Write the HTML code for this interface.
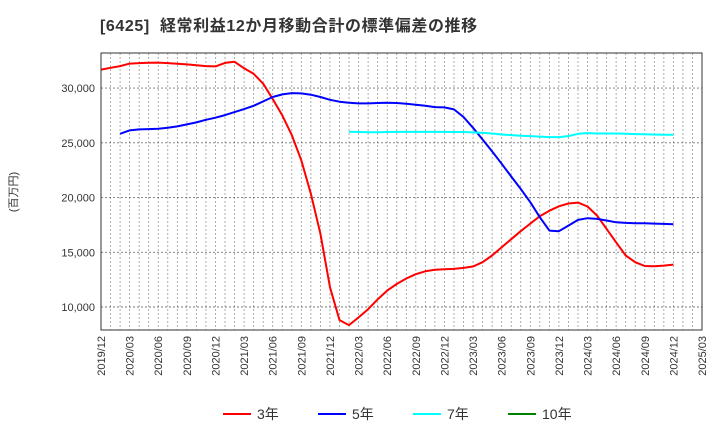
<!DOCTYPE html>
<html><head><meta charset="utf-8"><style>
body{margin:0;background:#fff;font-family:"Liberation Sans","Noto Sans CJK JP",sans-serif}
</style></head><body>
<svg id="c" width="720" height="440" xmlns="http://www.w3.org/2000/svg" style="font-family:'Liberation Sans','Noto Sans CJK JP',sans-serif">
<text x="100" y="31" font-size="16" font-weight="bold" fill="#333" letter-spacing="0.6" xml:space="preserve" style="white-space:pre">[6425]  経常利益12か月移動合計の標準偏差の推移</text>
<text transform="translate(17,192) rotate(-90)" font-size="11" text-anchor="middle" fill="#333">(百万円)</text>
<g id="grid"></g><g id="series"></g><g id="axes"></g><g id="legend"></g>
</svg>
<script>
const yTicks=[10000,15000,20000,25000,30000];
const xLabels=["2019/12","2020/03","2020/06","2020/09","2020/12","2021/03","2021/06","2021/09","2021/12","2022/03","2022/06","2022/09","2022/12","2023/03","2023/06","2023/09","2023/12","2024/03","2024/06","2024/09","2024/12","2025/03"];
const s3=[31680,31850,32000,32230,32280,32310,32320,32280,32220,32160,32080,32000,31980,32300,32400,31800,31300,30400,29000,27500,25700,23400,20330,16700,11800,8800,8350,9050,9800,10700,11500,12100,12600,13000,13260,13400,13450,13480,13570,13700,14090,14700,15460,16190,16920,17620,18290,18800,19200,19450,19540,19180,18350,17130,15910,14700,14090,13750,13720,13780,13870];
const s5=[null,null,25820,26130,26220,26250,26280,26370,26500,26680,26860,27100,27290,27530,27800,28080,28380,28780,29180,29420,29540,29510,29390,29180,28930,28750,28660,28600,28600,28630,28660,28630,28570,28480,28380,28260,28230,28050,27350,26370,25300,24210,23080,21920,20790,19570,18200,16980,16920,17440,17960,18110,18050,17900,17740,17680,17650,17650,17620,17590,17560];
const s7=[null,null,null,null,null,null,null,null,null,null,null,null,null,null,null,null,null,null,null,null,null,null,null,null,null,null,26000,25980,25970,25970,25980,25990,25990,25990,25990,25990,25990,25980,25980,25950,25900,25850,25760,25700,25650,25610,25560,25520,25520,25610,25820,25880,25850,25850,25850,25820,25790,25770,25760,25740,25730];
const s10=[];
const L=101,R=702,T=53,B=330,ymin=7900,ymax=33200,months=63;
const X=m=>L+(R-L)*m/months, Y=v=>B-(v-ymin)/(ymax-ymin)*(B-T);
const ns="http://www.w3.org/2000/svg";
function mk(t,a,p){const e=document.createElementNS(ns,t);for(const k in a)e.setAttribute(k,a[k]);p.appendChild(e);return e;}
const g=document.getElementById('grid'),ax=document.getElementById('axes'),se=document.getElementById('series'),lg=document.getElementById('legend');
for(let m=1;m<months;m++){const l=mk('line',{x1:X(m),x2:X(m),y1:T,y2:B,stroke:'#999','stroke-dasharray':'2,2','stroke-width':0.8},g);

}
yTicks.forEach(v=>{const l=mk('line',{x1:L,x2:R,y1:Y(v),y2:Y(v),stroke:'#777','stroke-dasharray':'2,2','stroke-width':0.9},g);


const t=mk('text',{x:L-6,y:Y(v)+4,'text-anchor':'end','font-size':11,fill:'#333'},ax);t.textContent=v.toLocaleString('en-US');

});
const fr=mk('rect',{x:L,y:T,width:R-L,height:B-T,fill:'none',stroke:'#333','stroke-width':1},ax);


xLabels.forEach((s,i)=>{const x=X(i*3);const t=mk('text',{transform:`translate(${x+4},${B+6}) rotate(-90)`,'text-anchor':'end','font-size':11,fill:'#333'},ax);t.textContent=s;

});
function draw(arr,col,name){let d='';let pen=false;arr.forEach((v,i)=>{if(v==null){pen=false;return;}d+=(pen?'L':'M')+X(i).toFixed(1)+','+Y(v).toFixed(1);pen=true;});
if(!d)return;const p=mk('path',{d:d,fill:'none',stroke:col,'stroke-width':2,'stroke-linejoin':'round'},se);

}
draw(s3,'#ff0000','line-3yr');draw(s5,'#0000ff','line-5yr');draw(s7,'#00ffff','line-7yr');draw(s10,'#008000','line-10yr');
[['3年','#ff0000',223],['5年','#0000ff',318],['7年','#00ffff',413],['10年','#008000',508]].forEach(([n,c,x])=>{
const gg=mk('g',{},lg);


mk('line',{x1:x,x2:x+28,y1:414,y2:414,stroke:c,'stroke-width':2},gg);
const t=mk('text',{x:x+34,y:419,'font-size':14,fill:'#333'},gg);t.textContent=n;});
</script>
</body></html>
